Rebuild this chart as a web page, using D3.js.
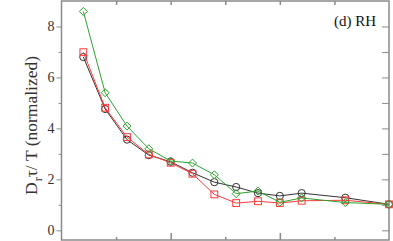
<!DOCTYPE html>
<html>
<head>
<meta charset="utf-8">
<script src="https://cdn.jsdelivr.net/npm/d3@7"></script>
<style>
body { margin: 0; background: #fff; }
svg { display: block; }
</style>
</head>
<body>
<div id="main"></div>
<script>

var width = 393,
    height = 241;

// x positions of the samples (axis carries no labels)
var xs = [1, 2, 3, 4, 5, 6, 7, 8, 9, 10, 11, 13, 15];

// values
var blackCircles = [6.80, 4.76, 3.56, 2.95, 2.69, 2.26, 1.89, 1.70, 1.46, 1.35, 1.46, 1.28, 1.02];
var redSquares   = [6.99, 4.81, 3.66, 2.98, 2.65, 2.22, 1.41, 1.07, 1.14, 1.07, 1.16, 1.18, 1.02];
var greenDiamonds = [8.59, 5.40, 4.09, 3.20, 2.72, 2.64, 2.18, 1.44, 1.54, 1.10, 1.27, 1.09, 1.02];

var yMajor = [0, 2, 4, 6, 8];
var yMinor = [1, 3, 5, 7];
var xMajor = [5, 10];
var xMinor = [2.5, 7.5, 12.5];

var panelLabel = "(d) RH";

var AXIS_COLOR = "#8a8a8a";
var SERIF = "'Liberation Serif', 'Times New Roman', serif";

var svg = d3.select("div#main")
    .append("svg")
    .attr("width", width)
    .attr("height", height);

var x = d3.scaleLinear().domain([0, 15]).range([61.5, 389]);
var y = d3.scaleLinear().domain([-0.38, 9]).range([240, 1]);

// frame
svg.append("rect")
    .attr("x", x(0))
    .attr("y", y(9))
    .attr("width", x(15) - x(0))
    .attr("height", y(-0.38) - y(9))
    .attr("fill", "none")
    .attr("stroke", AXIS_COLOR)
    .attr("stroke-width", 1.5);

// left axis: ticks outward
var left = svg.append("g")
    .attr("transform", `translate(${x(0)},0)`)
    .call(d3.axisLeft(y).tickValues(yMajor).tickSize(5).tickPadding(2).tickFormat(d3.format("d")));
left.select(".domain").remove();
left.selectAll("line").attr("stroke", AXIS_COLOR);
left.selectAll("text")
    .attr("font-family", SERIF)
    .attr("font-size", 14)
    .attr("fill", "#333");

svg.append("g")
    .attr("transform", `translate(${x(0)},0)`)
    .call(d3.axisLeft(y).tickValues(yMinor).tickSize(3).tickFormat(""))
    .call(function(g) { g.select(".domain").remove(); g.selectAll("line").attr("stroke", AXIS_COLOR); });

// right axis: ticks inward
svg.append("g")
    .attr("transform", `translate(${x(15)},0)`)
    .call(d3.axisRight(y).tickValues(yMajor.concat(yMinor)).tickSize(-7).tickFormat(""))
    .call(function(g) { g.select(".domain").remove(); g.selectAll("line").attr("stroke", AXIS_COLOR); });

// bottom and top ticks, inward
function xTicks(vals, len) {
    svg.append("g")
        .attr("transform", `translate(0,${y(-0.38)})`)
        .call(d3.axisBottom(x).tickValues(vals).tickSize(-len).tickFormat(""))
        .call(function(g) { g.select(".domain").remove(); g.selectAll("line").attr("stroke", AXIS_COLOR).attr("stroke-width", 1.5); });
    svg.append("g")
        .attr("transform", `translate(0,${y(9)})`)
        .call(d3.axisTop(x).tickValues(vals).tickSize(-4).tickFormat(""))
        .call(function(g) { g.select(".domain").remove(); g.selectAll("line").attr("stroke", AXIS_COLOR).attr("stroke-width", 1.5); });
}
xTicks(xMajor, 7);
xTicks(xMinor, 3);

// series
var series = [
    { values: blackCircles, color: "#333333", shape: "circle" },
    { values: redSquares, color: "#ff3b3b", shape: "square" },
    { values: greenDiamonds, color: "#2ea02e", shape: "diamond" }
];

var line = d3.line()
    .x(function(d) { return x(d[0]); })
    .y(function(d) { return y(d[1]); });

series.forEach(function(s) {
    var pts = xs.map(function(v, i) { return [v, s.values[i]]; });
    var g = svg.append("g");
    g.append("path")
        .datum(pts)
        .attr("d", line)
        .attr("fill", "none")
        .attr("stroke", s.color)
        .attr("stroke-width", 1);

    if (s.shape === "circle") {
        g.selectAll("circle").data(pts).enter().append("circle")
            .attr("cx", function(d) { return x(d[0]); })
            .attr("cy", function(d) { return y(d[1]); })
            .attr("r", 3.6)
            .attr("fill", "none")
            .attr("stroke", s.color);
    } else if (s.shape === "square") {
        g.selectAll("rect").data(pts).enter().append("rect")
            .attr("x", function(d) { return x(d[0]) - 3.4; })
            .attr("y", function(d) { return y(d[1]) - 3.4; })
            .attr("width", 6.8)
            .attr("height", 6.8)
            .attr("fill", "none")
            .attr("stroke", s.color);
    } else {
        g.selectAll("path.pt").data(pts).enter().append("path")
            .attr("class", "pt")
            .attr("transform", function(d) { return `translate(${x(d[0])},${y(d[1])})`; })
            .attr("d", "M0,-4L4,0L0,4L-4,0Z")
            .attr("fill", "none")
            .attr("stroke", s.color);
    }
});

// panel label
svg.append("text")
    .attr("x", 376)
    .attr("y", 26)
    .attr("text-anchor", "end")
    .attr("font-family", SERIF)
    .attr("font-size", 15)
    .attr("fill", "#111")
    .text(panelLabel);

// y label: D_r tau / T (normalized)
var ylab = svg.append("text")
    .attr("transform", "translate(37,195) rotate(-90)")
    .attr("font-family", SERIF)
    .attr("font-size", 17.5)
    .attr("fill", "#333");
ylab.append("tspan").text("D");
ylab.append("tspan").attr("font-size", 12).attr("dy", 5).attr("dx", 1).text("r");
ylab.append("tspan").attr("dy", -5).text("\u03c4/ T (normalized)");

</script>
</body>
</html>
